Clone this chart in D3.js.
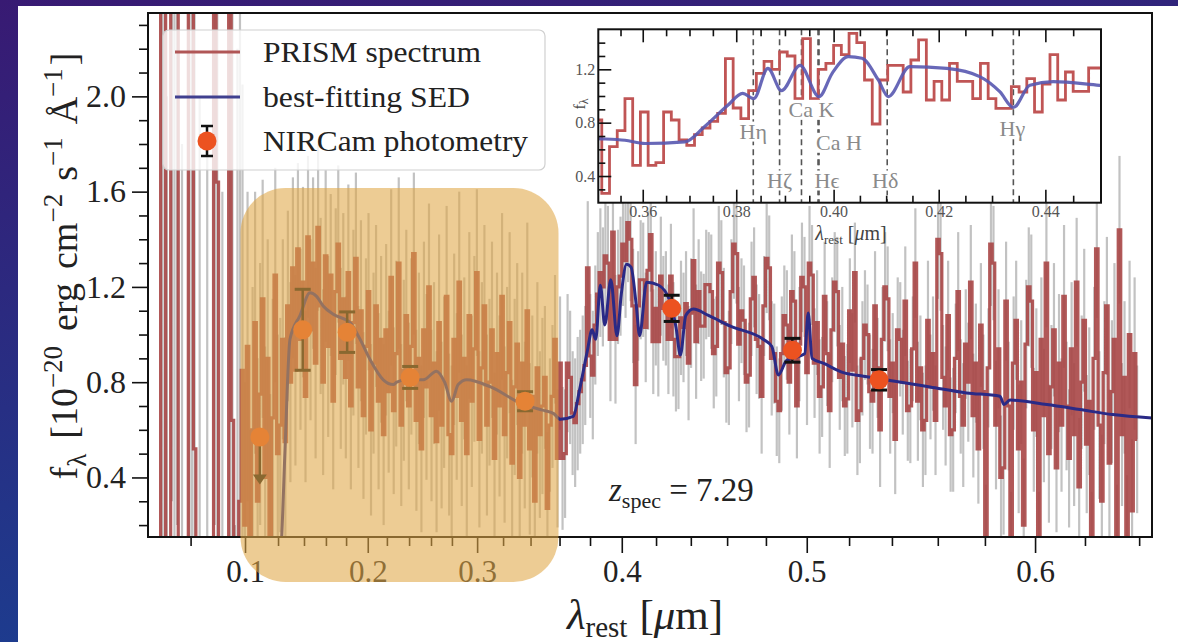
<!DOCTYPE html>
<html>
<head>
<meta charset="utf-8">
<script src="https://cdn.jsdelivr.net/npm/d3@7"></script>
<style>
  html, body { margin: 0; padding: 0; background: #fff; }
  svg { display: block; }
  text { font-family: "Liberation Serif", "DejaVu Serif", serif; }
</style>
</head>
<body>
<svg id="fig" width="1178" height="642"></svg>
<script>
// ---------------------------------------------------------------------------
// PRISM dispersion: rest-frame wavelength (um) <-> detector pixel index
// ---------------------------------------------------------------------------
const dispWave = [0.064, 0.08, 0.10, 0.12, 0.14, 0.16, 0.18, 0.20, 0.22, 0.24, 0.26, 0.28,
                  0.30, 0.32, 0.34, 0.36, 0.38, 0.40, 0.42, 0.44, 0.46, 0.48, 0.50, 0.52,
                  0.54, 0.56, 0.58, 0.60, 0.62, 0.64, 0.6445];
const dispPix  = [0, 16.9, 38.5, 51.6, 61.9, 70.6, 78.6, 87.2, 94.8, 103.6, 112.3, 120.6,
                  130.6, 140.9, 151.8, 163.3, 175.4, 188.0, 201.6, 215.4, 229.8, 245.2, 261.4, 278.2,
                  295.2, 313.4, 332.1, 352.0, 371.8, 393.3, 398.4];
const nPix = 398.4;

// PRISM spectrum, one value per detector pixel (1e-20 erg/cm2/s/A)
const specFlux = [
  // below Lyman-alpha: noise
  -1.5, -1.8, -1.3, -1.6, -1.2, 3.0, 3.1, -1.0, -0.9, 3.3,
  3.0, 3.2, -1.2, -1.4, -0.8, -1.3, 2.8, 3.0, 0.52, -1.0,
  -1.2, -1.5, -1.1, -1.3, -0.9, -1.2, 3.2, 1.64, -1.1, -1.4,
  -0.8, -1.0, 2.9, 0.64, -0.6, -0.4, 0.3, 0.85,
  // Lyman-alpha region
  0.2, 0.95, -0.1, 0.6, 1.05, 0.3, 0.75, 1.15, 0.4, 0.9, 0.15, 0.65, 1.25, 0.5,
  // rest-UV continuum
  0.62, 0.98, 0.55, 1.12, 0.80, 1.28, 0.85, 1.36, 0.98, 1.22,
  0.74, 1.41, 1.02, 1.30, 0.88, 1.45, 1.12, 0.80, 1.33, 0.95,
  1.25, 0.72, 1.18, 1.38, 0.90, 1.15, 0.82, 1.26, 0.70, 1.05,
  1.32, 0.78, 1.10, 0.66, 0.95, 1.18, 0.60, 0.88, 1.12, 0.72,
  0.98, 0.58, 1.02, 0.76, 1.24, 0.68, 0.92, 1.30, 0.62, 0.85,
  1.08, 0.70, 0.95, 1.34, 0.64, 0.90, 0.52, 1.02, 0.78, 1.20,
  0.66, 0.88, 0.55, 1.05, 0.62, 0.80, 1.16, 0.58, 0.50, 0.98,
  0.74, 1.22, 0.64, 0.90, 0.50, 1.08, 0.72, 0.94, 1.26, 0.56,
  0.86, 1.12, 0.62, 0.80, 1.02, 0.48, 0.92, 0.70, 1.16, 0.58,
  0.84, 1.05, 0.46, 0.78, 0.96, 0.40, 0.88, 0.62, 1.10, 0.52,
  0.74, 0.30, 0.86, 0.58, 0.70,
  // Balmer break region
  0.82, 0.27, 0.62, 0.74, 0.98, 0.48, 0.88, 0.48, 0.50, 0.88,
  0.82, 0.67, 0.63, 0.71, 0.76, 0.81, 0.87, 1.28, 0.91, 0.83,
  1.04, 1.17, 1.26, 1.20, 1.33, 1.30, 0.98, 1.43, 0.98, 1.20,
  1.245, 1.38, 1.31, 1.47, 1.40, 1.12, 0.79, 1.12, 1.23, 1.23,
  1.03, 1.27, 1.42, 0.97, 1.11, 0.97, 1.245, 1.11, 1.11, 0.98,
  1.245, 0.98, 0.907, 0.907, 1.07, 1.03, 1.13, 0.88, 1.09, 1.31,
  0.97, 1.18, 1.035, 1.035, 1.21,
  // rest-optical continuum
  1.21, 1.18, 0.92, 0.95, 1.30, 1.26, 1.05, 0.84, 0.86, 1.18,
  1.38, 1.34, 0.96, 1.10, 1.06, 0.80, 0.83, 1.15, 1.24, 0.98,
  0.95, 0.74, 1.12, 1.32, 1.28, 0.90, 0.92, 0.72, 0.68, 0.92,
  1.08, 1.04, 0.80, 1.18, 1.14, 0.70, 0.96, 1.24, 1.20, 0.84,
  1.30, 1.25, 0.88, 1.05, 0.74, 0.78, 1.16, 0.92, 0.68, 1.02,
  1.22, 1.18, 0.82, 0.96, 0.70, 0.73, 1.10, 0.85, 1.26, 0.64,
  0.68, 0.90, 1.04, 1.00, 0.76, 0.72, 1.12, 0.86, 0.60, 0.98,
  1.20, 1.15, 0.74, 0.88, 0.56, 1.02, 0.98, 0.80, 1.14, 0.68,
  0.70, 0.94, 1.30, 0.72, 0.86, 0.60, 0.64, 1.06, 0.78, 0.92,
  0.64, 1.40, 1.34, 0.82, 0.70, 1.08, 0.58, 0.60, 0.90, 1.18,
  0.74, 0.62, 0.96, 0.80, 1.22, 0.66, 0.88, 0.52, 1.04, 0.76,
  0.10, 0.86, 1.38, 1.30, 0.62, 0.94, 0.40, 0.44, 1.14, 0.70,
  0.08, 0.88, 1.06, 0.52, 0.80, 0.20, 0.96, 1.20, 1.14, 0.60,
  0.84, 0.05, 0.98, 0.66, 1.30, 0.50, 0.78, 1.02, 0.44, 0.88,
  0.62, 1.16, 0.70, 0.48, 0.94, 0.58, 1.22, 0.36, 0.80, 1.06,
  0.54, 0.72, 0.06, 0.90, 1.36, 0.62, 0.30, 0.84, 1.12, 0.46,
  0.76, 0.98, 0.08, 1.44, 0.58, 0.82, 0.12, 1.00, 0.26, 0.92,
  0.56
];

// 1-sigma uncertainty for each pixel
const specErr = [
  0.8, 0.8, 0.8, 0.8, 0.8, 3.0, 3.1, 3.0, 0.8, 3.0,
  3.0, 3.0, 0.8, 3.2, 0.8, 0.8, 3.0, 3.0, 3.0, 0.8,
  3.2, 0.8, 0.8, 3.1, 0.8, 0.8, 3.0, 3.0, 0.8, 3.0,
  0.8, 0.8, 3.0, 3.0, 0.8, 2.6, 2.6, 1.2,
  0.6, 0.65, 0.7, 0.6, 0.55, 0.6, 0.55, 0.5, 0.55, 0.5, 0.6, 0.5, 0.45, 0.5,
  0.45, 0.42, 0.44, 0.40, 0.42, 0.38, 0.40, 0.36, 0.38, 0.40,
  0.36, 0.34, 0.38, 0.36, 0.40, 0.35, 0.37, 0.39, 0.36, 0.38,
  0.34, 0.37, 0.35, 0.33, 0.38, 0.36, 0.34, 0.37, 0.35, 0.39,
  0.36, 0.34, 0.38, 0.35, 0.37, 0.33, 0.36, 0.38, 0.34, 0.37,
  0.35, 0.38, 0.36, 0.34, 0.37, 0.35, 0.39, 0.36, 0.34, 0.38,
  0.36, 0.35, 0.37, 0.34, 0.38, 0.36, 0.35, 0.37, 0.39, 0.35,
  0.36, 0.34, 0.38, 0.37, 0.35, 0.36, 0.38, 0.34, 0.37, 0.36,
  0.35, 0.38, 0.36, 0.34, 0.37, 0.35, 0.36, 0.39, 0.35, 0.37,
  0.36, 0.34, 0.38, 0.35, 0.37, 0.36, 0.34, 0.38, 0.35, 0.37,
  0.36, 0.38, 0.35, 0.37, 0.34, 0.36, 0.38, 0.35, 0.37, 0.36,
  0.34, 0.38, 0.36, 0.35, 0.37,
  0.30, 0.32, 0.28, 0.30, 0.27, 0.29, 0.28, 0.30, 0.27, 0.29,
  0.28, 0.26, 0.27, 0.28, 0.26, 0.27, 0.25, 0.28, 0.26, 0.27,
  0.25, 0.26, 0.27, 0.25, 0.26, 0.24, 0.26, 0.25, 0.27, 0.24,
  0.25, 0.26, 0.24, 0.25, 0.26, 0.24, 0.25, 0.23, 0.25, 0.24,
  0.23, 0.25, 0.24, 0.22, 0.24, 0.23, 0.25, 0.22, 0.24, 0.23,
  0.22, 0.24, 0.23, 0.22, 0.24, 0.23, 0.22, 0.24, 0.23, 0.22,
  0.24, 0.22, 0.23, 0.22, 0.23,
  0.22, 0.24, 0.23, 0.21, 0.24, 0.22, 0.23, 0.21, 0.24, 0.22,
  0.23, 0.21, 0.24, 0.22, 0.23, 0.21, 0.22, 0.24, 0.21, 0.23,
  0.22, 0.24, 0.21, 0.23, 0.22, 0.24, 0.21, 0.23, 0.22, 0.24,
  0.21, 0.23, 0.22, 0.24, 0.21, 0.22, 0.24, 0.23, 0.21, 0.22,
  0.24, 0.21, 0.23, 0.22, 0.24, 0.21, 0.23, 0.22, 0.24, 0.22,
  0.21, 0.23, 0.22, 0.24, 0.21, 0.23, 0.22, 0.24, 0.21, 0.23,
  0.22, 0.24, 0.23, 0.21, 0.24, 0.22, 0.23, 0.21, 0.24, 0.22,
  0.23, 0.22, 0.24, 0.21, 0.23, 0.22, 0.24, 0.22, 0.23, 0.21,
  0.24, 0.22, 0.23, 0.25, 0.22, 0.24, 0.23, 0.25, 0.22, 0.24,
  0.23, 0.25, 0.24, 0.22, 0.25, 0.23, 0.24, 0.26, 0.23, 0.25,
  0.24, 0.26, 0.23, 0.25, 0.24, 0.26, 0.25, 0.23, 0.26, 0.24,
  0.27, 0.25, 0.26, 0.24, 0.27, 0.25, 0.26, 0.28, 0.25, 0.27,
  0.26, 0.28, 0.25, 0.27, 0.26, 0.28, 0.27, 0.25, 0.28, 0.26,
  0.27, 0.29, 0.26, 0.28, 0.27, 0.29, 0.26, 0.28, 0.27, 0.29,
  0.28, 0.30, 0.27, 0.29, 0.28, 0.30, 0.27, 0.29, 0.28, 0.30,
  0.29, 0.31, 0.28, 0.30, 0.29, 0.31, 0.28, 0.30, 0.29, 0.31,
  0.30, 0.32, 0.29, 0.31, 0.30, 0.32, 0.29, 0.31, 0.30, 0.32,
  0.31
];

// best-fitting SED (rest wavelength in um, flux)
const sedWave = [0.064, 0.1205, 0.1216, 0.1228, 0.1254, 0.1292, 0.1369, 0.1455, 0.1515, 0.1575,
                 0.1673, 0.1837, 0.1929, 0.2024, 0.2162, 0.2258, 0.2288, 0.2379, 0.2530, 0.2652,
                 0.2730, 0.2797, 0.2850, 0.2918, 0.3104, 0.3324, 0.3466, 0.3500, 0.3560, 0.3605,
                 0.3690, 0.3732, 0.3782, 0.3813, 0.3836, 0.3865, 0.3893, 0.3931, 0.3970, 0.3997,
                 0.4028, 0.4054, 0.4085, 0.4104, 0.4145, 0.4215, 0.4277, 0.4315, 0.4340, 0.4371,
                 0.4414, 0.4497, 0.4617, 0.4786, 0.4829, 0.4861, 0.4900, 0.4990, 0.5007, 0.5025,
                 0.5078, 0.5173, 0.5267, 0.5406, 0.5566, 0.5722, 0.5860, 0.5876, 0.5900, 0.6047,
                 0.6180, 0.6302, 0.6445];
const sedFlux = [0.0, 0.0, 0.05, 0.15, 0.52, 0.98, 1.08, 1.175, 1.16, 1.12,
                 1.085, 1.05, 0.98, 0.895, 0.81, 0.79, 0.80, 0.81, 0.81, 0.846,
                 0.80, 0.72, 0.79, 0.81, 0.78, 0.713, 0.685, 0.68, 0.668, 0.644,
                 0.656, 0.77, 0.93, 1.02, 0.98, 1.207, 1.04, 1.23, 0.995, 1.17,
                 1.295, 1.283, 1.12, 0.995, 1.22, 1.207, 1.145, 1.03, 0.914, 1.08,
                 1.107, 1.08, 1.035, 0.98, 0.95, 0.83, 0.89, 0.92, 1.09, 0.90,
                 0.88, 0.84, 0.825, 0.805, 0.78, 0.755, 0.741, 0.706, 0.725, 0.706,
                 0.685, 0.664, 0.65];

// NIRCam photometry
const photWave  = [0.109, 0.139, 0.181, 0.241, 0.336, 0.429, 0.493, 0.534];
const photFlux  = [0.57, 1.02, 1.01, 0.82, 0.72, 1.11, 0.934, 0.81];
const photErr   = [0.20, 0.17, 0.085, 0.046, 0.04, 0.055, 0.05, 0.043];
const photUpper = [true, false, false, false, false, false, false, false];

// axes
const yMajor = [0.4, 0.8, 1.2, 1.6, 2.0];
const yMinor = [0.2, 0.3, 0.5, 0.6, 0.7, 0.9, 1.0, 1.1, 1.3, 1.4, 1.5, 1.7, 1.8, 1.9, 2.1, 2.2, 2.3];
const xMajor = [0.1, 0.2, 0.3, 0.4, 0.5, 0.6];
const xMinor = [0.08, 0.12, 0.14, 0.16, 0.18, 0.22, 0.24, 0.26, 0.28, 0.32, 0.34, 0.36, 0.38,
                0.42, 0.44, 0.46, 0.48, 0.52, 0.54, 0.56, 0.58, 0.62, 0.64];
const insXMajor = [0.36, 0.38, 0.40, 0.42, 0.44];
const insXMinor = [0.355, 0.365, 0.37, 0.375, 0.385, 0.39, 0.395, 0.405, 0.41, 0.415,
                   0.425, 0.43, 0.435, 0.445];
const insYMajor = [0.4, 0.8, 1.2];
const insYMinor = [0.3, 0.5, 0.6, 0.7, 0.9, 1.0, 1.1, 1.3, 1.4];

// absorption features marked in the zoom panel
const lineNames = ["Hη", "Hζ", "Ca K", "Ca H", "Hϵ", "Hδ", "Hγ"];
const lineWaves = [0.3835, 0.3889, 0.3934, 0.3968, 0.3970, 0.4102, 0.4340];
const lineLevel = [0.737, 0.37, 0.90, 0.653, 0.37, 0.37, 0.76];
const lineShift = [0, 0, 10, 21, 8, -2, -1];

const legendLabels = ["PRISM spectrum", "best-fitting SED", "NIRCam photometry"];
const legendWidths = [218, 207, 265];

// ---------------------------------------------------------------------------
const W = 1178, H = 642;
const svg = d3.select("#fig");
const defs = svg.append("defs");

const bg = defs.append("linearGradient").attr("id", "slideBg")
  .attr("x1", 0).attr("y1", 0).attr("x2", 0.3).attr("y2", 1);
bg.append("stop").attr("offset", "0%").attr("stop-color", "#381a73");
bg.append("stop").attr("offset", "100%").attr("stop-color", "#1b3e90");
svg.append("rect").attr("width", W).attr("height", H).attr("fill", "url(#slideBg)");
svg.append("rect").attr("x", 18).attr("y", 6).attr("width", W - 18).attr("height", H - 6).attr("fill", "#fff");

const P = { left: 148, right: 1152, top: 13, bottom: 537 };
const pixToX = d3.scaleLinear().domain([0, nPix]).range([P.left, P.right]);
const waveToPix = d3.scaleLinear().domain(dispWave).range(dispPix);
const x = d3.scaleLinear().domain(dispWave).range(dispPix.map(pixToX));
const y = d3.scaleLinear().domain([0.15, 2.35]).range([P.bottom, P.top]);

defs.append("clipPath").attr("id", "mainClip").append("rect")
  .attr("x", P.left).attr("y", P.top).attr("width", P.right - P.left).attr("height", P.bottom - P.top);

const spec = specFlux.map((f, i) => ({ i, f, e: specErr[i] }));
const sed = sedWave.map((w, i) => ({ w, f: sedFlux[i] }));
const phot = photWave.map((w, i) => ({ w, f: photFlux[i], e: photErr[i], up: photUpper[i] }));

const main = svg.append("g").attr("clip-path", "url(#mainClip)");

// uncertainties (clamped to the visible flux range)
const yc = v => y(Math.max(-0.2, Math.min(2.6, v)));
main.append("g").selectAll("line").data(spec).join("line")
  .attr("x1", d => pixToX(d.i + 0.5)).attr("x2", d => pixToX(d.i + 0.5))
  .attr("y1", d => yc(d.f - d.e)).attr("y2", d => yc(d.f + d.e))
  .attr("stroke", "#c2c2c2").attr("stroke-width", 2.2);

// spectrum
main.append("path").datum(spec)
  .attr("d", d3.line().x(d => pixToX(d.i + 0.5)).y(d => yc(d.f)).curve(d3.curveStep))
  .attr("fill", "none").attr("stroke", "#a84646").attr("stroke-width", 3.2)
  .attr("stroke-opacity", 0.9);

// model
main.append("path").datum(sed)
  .attr("d", d3.line().x(d => x(d.w)).y(d => yc(d.f)).curve(d3.curveMonotoneX))
  .attr("fill", "none").attr("stroke", "#2a2a86").attr("stroke-width", 3);

// photometry
const pg = svg.append("g");
phot.forEach(d => {
  const cx = x(d.w);
  if (d.up) {
    const yTop = y(d.f), yTip = y(d.f - d.e);
    pg.append("line").attr("x1", cx - 7).attr("x2", cx + 7).attr("y1", yTop).attr("y2", yTop)
      .attr("stroke", "#111").attr("stroke-width", 2.5);
    pg.append("line").attr("x1", cx).attr("x2", cx).attr("y1", yTop).attr("y2", yTip - 8)
      .attr("stroke", "#111").attr("stroke-width", 2.5);
    pg.append("path").attr("d", `M${cx - 7},${yTip - 10} L${cx + 7},${yTip - 10} L${cx},${yTip} Z`)
      .attr("fill", "#111");
  } else {
    const y0 = y(d.f - d.e), y1 = y(d.f + d.e);
    pg.append("line").attr("x1", cx).attr("x2", cx).attr("y1", y0).attr("y2", y1)
      .attr("stroke", "#111").attr("stroke-width", 2.5);
    [y0, y1].forEach(yy => pg.append("line").attr("x1", cx - 8).attr("x2", cx + 8)
      .attr("y1", yy).attr("y2", yy).attr("stroke", "#111").attr("stroke-width", 3));
  }
  pg.append("circle").attr("cx", cx).attr("cy", y(d.f)).attr("r", 9.5).attr("fill", "#ec5220");
});

// frame and axes
svg.append("rect").attr("x", P.left).attr("y", P.top).attr("width", P.right - P.left)
  .attr("height", P.bottom - P.top).attr("fill", "none").attr("stroke", "#111").attr("stroke-width", 2);

function styleAxis(g, size) {
  g.select(".domain").remove();
  g.selectAll(".tick line").attr("stroke", "#111").attr("stroke-width", 1.6);
  g.selectAll(".tick text").attr("fill", "#222").style("font-size", size + "px")
    .style("font-family", '"Liberation Serif", "DejaVu Serif", serif');
}
styleAxis(svg.append("g").attr("transform", `translate(0,${P.bottom})`)
  .call(d3.axisBottom(x).tickValues(xMajor).tickFormat(d3.format(".1f")).tickSize(16).tickPadding(7)), 31);
styleAxis(svg.append("g").attr("transform", `translate(0,${P.bottom})`)
  .call(d3.axisBottom(x).tickValues(xMinor).tickFormat("").tickSize(9)), 31);
styleAxis(svg.append("g").attr("transform", `translate(${P.left},0)`)
  .call(d3.axisLeft(y).tickValues(yMajor).tickFormat(d3.format(".1f")).tickSize(16).tickPadding(6)), 32);
styleAxis(svg.append("g").attr("transform", `translate(${P.left},0)`)
  .call(d3.axisLeft(y).tickValues(yMinor).tickFormat("").tickSize(9)), 32);

// axis titles
const xt = svg.append("text").attr("x", 645).attr("y", 629).attr("text-anchor", "middle")
  .attr("fill", "#222").style("font-size", "43px");
xt.append("tspan").style("font-style", "italic").text("λ");
xt.append("tspan").attr("dy", 8).style("font-size", "29px").text("rest");
xt.append("tspan").attr("dy", -8).attr("dx", 12).text("[");
xt.append("tspan").style("font-style", "italic").text("μ");
xt.append("tspan").text("m]");

const yt = svg.append("text").attr("transform", "translate(77,266) rotate(-90)")
  .attr("text-anchor", "middle").attr("fill", "#222").style("font-size", "38px");
yt.append("tspan").text("f");
yt.append("tspan").attr("dy", 9).style("font-size", "27px").text("λ");
yt.append("tspan").attr("dy", -9).attr("dx", 15).text("[10");
yt.append("tspan").attr("dy", -15).style("font-size", "27px").text("−20");
yt.append("tspan").attr("dy", 15).attr("dx", 15).text("erg");
yt.append("tspan").attr("dx", 14).text("cm");
yt.append("tspan").attr("dy", -15).style("font-size", "27px").text("−2");
yt.append("tspan").attr("dy", 15).attr("dx", 13).text("s");
yt.append("tspan").attr("dy", -15).style("font-size", "27px").text("−1");
yt.append("tspan").attr("dy", 15).attr("dx", 13).text("Å");
yt.append("tspan").attr("dy", -15).style("font-size", "27px").text("−1");
yt.append("tspan").attr("dy", 15).attr("dx", 3).text("]");

// redshift
const zt = svg.append("text").attr("x", 609).attr("y", 501).attr("fill", "#222").style("font-size", "33px");
zt.append("tspan").style("font-style", "italic").text("z");
zt.append("tspan").attr("dy", 7).style("font-size", "22px").text("spec");
zt.append("tspan").attr("dy", -7).text(" = 7.29");

// legend
const lg = svg.append("g");
lg.append("rect").attr("x", 163).attr("y", 30).attr("width", 382).attr("height", 140).attr("rx", 6)
  .attr("fill", "#fff").attr("fill-opacity", 0.8).attr("stroke", "#d0d0d0").attr("stroke-width", 1.2);
const legY = [52, 97, 141];
lg.append("line").attr("x1", 175).attr("x2", 240).attr("y1", legY[0]).attr("y2", legY[0])
  .attr("stroke", "#b05656").attr("stroke-width", 3.2);
lg.append("line").attr("x1", 175).attr("x2", 240).attr("y1", legY[1]).attr("y2", legY[1])
  .attr("stroke", "#40408f").attr("stroke-width", 3.2);
lg.append("line").attr("x1", 207).attr("x2", 207).attr("y1", legY[2] - 15).attr("y2", legY[2] + 15)
  .attr("stroke", "#111").attr("stroke-width", 2.5);
[legY[2] - 15, legY[2] + 15].forEach(yy => lg.append("line").attr("x1", 201).attr("x2", 213)
  .attr("y1", yy).attr("y2", yy).attr("stroke", "#111").attr("stroke-width", 2.5));
lg.append("circle").attr("cx", 207).attr("cy", legY[2]).attr("r", 9.5).attr("fill", "#ec5220");
legendLabels.forEach((t, k) => lg.append("text").attr("x", 263).attr("y", legY[k] + 10)
  .attr("fill", "#222").style("font-size", "30px")
  .attr("textLength", legendWidths[k]).attr("lengthAdjust", "spacingAndGlyphs").text(t));

// ---------------------------------------------------------------------------
// zoom panel around the Balmer break
// ---------------------------------------------------------------------------
const I = { left: 598.3, right: 1101, top: 29.3, bottom: 202.7 };
const insPix = d3.scaleLinear().domain([waveToPix(0.35), waveToPix(0.45)]).range([I.left, I.right]);
const ix = w => insPix(waveToPix(w));
const iy = d3.scaleLinear().domain([0.2, 1.5]).range([I.bottom, I.top]);

defs.append("clipPath").attr("id", "insClip").append("rect")
  .attr("x", I.left).attr("y", I.top).attr("width", I.right - I.left).attr("height", I.bottom - I.top);

svg.append("rect").attr("x", I.left).attr("y", I.top).attr("width", I.right - I.left)
  .attr("height", I.bottom - I.top).attr("fill", "#fff");
const ins = svg.append("g").attr("clip-path", "url(#insClip)");

// dashed feature markers
ins.append("g").selectAll("line").data(lineWaves).join("line")
  .attr("x1", d => ix(d)).attr("x2", d => ix(d)).attr("y1", I.top).attr("y2", I.bottom)
  .attr("stroke", "#555").attr("stroke-width", 1.6).attr("stroke-dasharray", "6,4");

const insSpec = spec.filter(d => d.i >= Math.floor(waveToPix(0.35)) - 1 && d.i <= Math.ceil(waveToPix(0.45)) + 1);
ins.append("path").datum(insSpec)
  .attr("d", d3.line().x(d => insPix(d.i + 0.5)).y(d => iy(d.f)).curve(d3.curveStep))
  .attr("fill", "none").attr("stroke", "#c05555").attr("stroke-width", 2.8);
ins.append("path").datum(sed.filter(d => d.w > 0.34 && d.w < 0.47))
  .attr("d", d3.line().x(d => ix(d.w)).y(d => iy(d.f)).curve(d3.curveMonotoneX))
  .attr("fill", "none").attr("stroke", "#5858b0").attr("stroke-width", 3.2).attr("stroke-opacity", 0.9);

// feature labels on white patches
const lab = ins.append("g");
lineNames.forEach((t, k) => {
  const g = lab.append("g");
  const tx = g.append("text").attr("x", ix(lineWaves[k]) + lineShift[k]).attr("y", iy(lineLevel[k]))
    .attr("text-anchor", "middle").attr("dominant-baseline", "central")
    .attr("fill", "#8a8a8a").style("font-size", "22px").text(t);
  const b = tx.node().getBBox();
  g.insert("rect", "text").attr("x", b.x - 1).attr("y", b.y + 3).attr("width", b.width + 2)
    .attr("height", b.height - 5).attr("fill", "#fff");
});

svg.append("rect").attr("x", I.left).attr("y", I.top).attr("width", I.right - I.left)
  .attr("height", I.bottom - I.top).attr("fill", "none").attr("stroke", "#111").attr("stroke-width", 2);

const insXs = d3.scaleLinear().domain(dispWave).range(dispPix.map(insPix));
function styleIns(g) {
  g.select(".domain").remove();
  g.selectAll(".tick line").attr("stroke", "#111").attr("stroke-width", 1.6);
  g.selectAll(".tick text").attr("fill", "#555").style("font-size", "16px")
    .style("font-family", '"Liberation Serif", "DejaVu Serif", serif');
}
styleIns(svg.append("g").attr("transform", `translate(0,${I.bottom})`)
  .call(d3.axisBottom(insXs).tickValues(insXMajor).tickFormat(d3.format(".2f")).tickSize(-13).tickPadding(3)));
styleIns(svg.append("g").attr("transform", `translate(0,${I.bottom})`)
  .call(d3.axisBottom(insXs).tickValues(insXMinor).tickFormat("").tickSize(-7)));
styleIns(svg.append("g").attr("transform", `translate(0,${I.top})`)
  .call(d3.axisTop(insXs).tickValues(insXMajor).tickFormat("").tickSize(-13)));
styleIns(svg.append("g").attr("transform", `translate(0,${I.top})`)
  .call(d3.axisTop(insXs).tickValues(insXMinor).tickFormat("").tickSize(-7)));
styleIns(svg.append("g").attr("transform", `translate(${I.left},0)`)
  .call(d3.axisLeft(iy).tickValues(insYMajor).tickFormat(d3.format(".1f")).tickSize(-13).tickPadding(3)));
styleIns(svg.append("g").attr("transform", `translate(${I.left},0)`)
  .call(d3.axisLeft(iy).tickValues(insYMinor).tickFormat("").tickSize(-7)));

const ixt = svg.append("text").attr("x", 851).attr("y", 240).attr("text-anchor", "middle")
  .attr("fill", "#444").style("font-size", "20px");
ixt.append("tspan").style("font-style", "italic").text("λ");
ixt.append("tspan").attr("dy", 4).style("font-size", "13px").text("rest");
ixt.append("tspan").attr("dy", -4).attr("dx", 5).text("[");
ixt.append("tspan").style("font-style", "italic").text("μ");
ixt.append("tspan").text("m]");

const iyt = svg.append("text").attr("transform", "translate(585,104) rotate(-90)")
  .attr("text-anchor", "middle").attr("fill", "#444").style("font-size", "16px");
iyt.append("tspan").text("f");
iyt.append("tspan").attr("dy", 3).style("font-size", "12px").text("λ");

// highlighted rest-UV region
svg.append("rect").attr("x", 240.5).attr("y", 188).attr("width", 318).attr("height", 394)
  .attr("rx", 45).attr("fill", "rgb(224,167,71)").attr("fill-opacity", 0.58);
</script>
</body>
</html>
